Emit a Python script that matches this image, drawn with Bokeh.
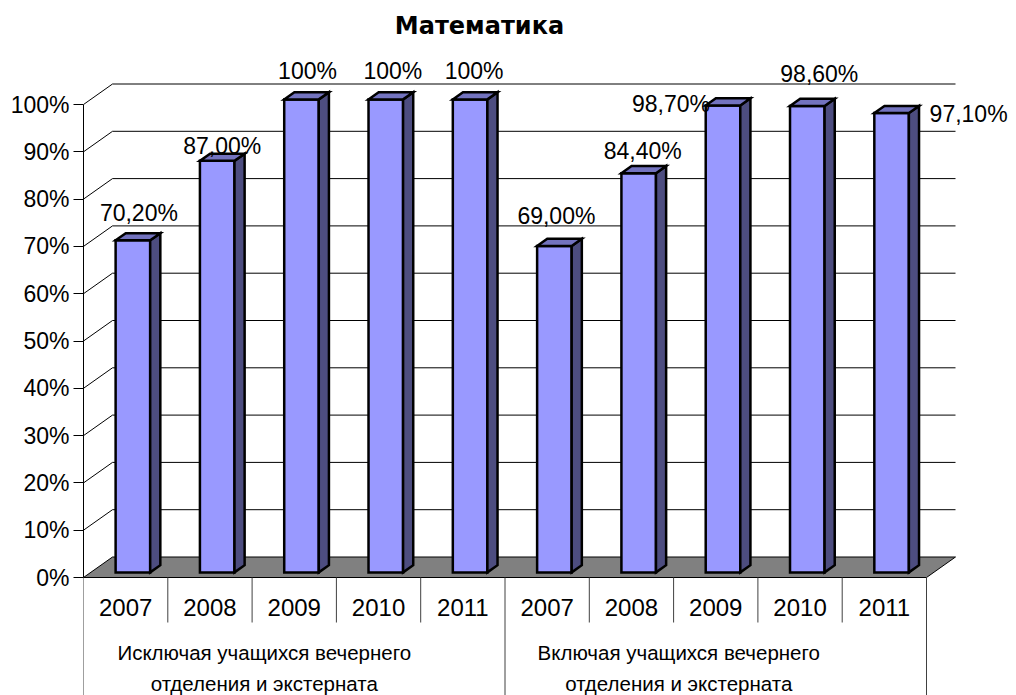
from bokeh.plotting import figure
from bokeh.models import Range1d, LinearAxis, FixedTicker, NumeralTickFormatter
from bokeh.embed import file_html
from bokeh.resources import INLINE
from bokeh.core.properties import value

# ---------------- data ----------------
title_text = "Математика"
years = ["2007", "2008", "2009", "2010", "2011", "2007", "2008", "2009", "2010", "2011"]
group_line1 = ["Исключая учащихся вечернего", "Включая учащихся вечернего"]
group_line2 = ["отделения и экстерната", "отделения и экстерната"]
values = [0.702, 0.870, 1.000, 1.000, 1.000, 0.690, 0.844, 0.987, 0.986, 0.971]
value_labels = ["70,20%", "87,00%", "100%", "100%", "100%",
                "69,00%", "84,40%", "98,70%", "98,60%", "97,10%"]
y_ticks = [0.0, 0.1, 0.2, 0.3, 0.4, 0.5, 0.6, 0.7, 0.8, 0.9, 1.0]

# ---------------- style / geometry ----------------
FONT = "Liberation Sans"
W, H = 1016, 695
LEFT = 83                # frame left (px)
ZERO_Y = 577             # px of 0%
PX_X = 84.3              # px per category
PX_Y = 473.0             # px per 100%
X_END = (W - LEFT) / PX_X
Y_END = ZERO_Y / PX_Y
Y_START = -(H - ZERO_Y) / PX_Y
DX = 29 / PX_X           # floor depth (x)
DY = 20.5 / PX_Y         # floor depth (y)
F0 = 0.25                # bar front depth fraction
FD = 0.35                # bar depth fraction
BW = 0.41                # bar width (category units)
FRONT = "#9999FF"
TOP = "#7373BF"
SIDE = "#4D4D80"
# label offsets in px (dx right, dy down) relative to bar front top centre
label_dx = [6, 5, 6, 7, 4, 2, 4, -52, 12, 77]
label_dy = [-27, -15, -28, -28, -28, -30, -22, -2, -32, 1]
group_dx = [-30, -37]

n = len(values)
n_groups = len(group_line1)
per_group = n // n_groups

p = figure(width=W, height=H, output_backend="svg", toolbar_location=None,
           x_range=Range1d(0, X_END), y_range=Range1d(Y_START, Y_END),
           x_axis_type=None, y_axis_type=None,
           min_border_left=LEFT, min_border_right=0, min_border_top=0, min_border_bottom=0)
p.outline_line_color = None
p.background_fill_color = "white"
p.border_fill_color = "white"
p.xgrid.visible = False
p.ygrid.visible = False

# y axis
yaxis = LinearAxis(ticker=FixedTicker(ticks=y_ticks),
                   formatter=NumeralTickFormatter(format="0%"),
                   bounds=(0, 1))
yaxis.axis_line_color = "black"
yaxis.axis_line_width = 1
yaxis.major_tick_line_color = "black"
yaxis.major_tick_out = 10
yaxis.major_tick_in = 0
yaxis.minor_tick_line_color = None
yaxis.major_label_standoff = 4
yaxis.major_label_text_font = FONT
yaxis.major_label_text_font_size = "23px"
yaxis.major_label_text_color = "black"
p.add_layout(yaxis, "left")

# floor
p.patch([0, n, n + DX, DX], [0, 0, DY, DY], fill_color="#808080",
        line_color="black", line_width=1)

# perspective gridlines
gx = [[0, DX, n + DX] for t in y_ticks[1:]]
gy = [[t, t + DY, t + DY] for t in y_ticks[1:]]
p.multi_line(gx, gy, line_color="black", line_width=1)

# bars
fx, fy, sx, sy, tx, ty = [], [], [], [], [], []
bdx, bdy = FD * DX, FD * DY
for i, v in enumerate(values):
    cx = i + 0.5 + F0 * DX
    x0, x1 = cx - BW / 2, cx + BW / 2
    y0 = F0 * DY
    y1 = y0 + v
    fx.append([x0, x1, x1, x0]); fy.append([y0, y0, y1, y1])
    sx.append([x1, x1 + bdx, x1 + bdx, x1]); sy.append([y0, y0 + bdy, y1 + bdy, y1])
    tx.append([x0, x1, x1 + bdx, x0 + bdx]); ty.append([y1, y1, y1 + bdy, y1 + bdy])
for xs, ys, col in [(fx, fy, FRONT), (sx, sy, SIDE), (tx, ty, TOP)]:
    p.patches(xs, ys, fill_color=col, line_color="black", line_width=2.5,
              line_join="miter")

# data labels
lx = [i + 0.5 + F0 * DX + label_dx[i] / PX_X for i in range(n)]
ly = [F0 * DY + values[i] - label_dy[i] / PX_Y for i in range(n)]
p.text(lx, ly, text=value_labels, text_font=value(FONT), text_font_size="23px",
       text_align="center", text_baseline="alphabetic", text_color="black")

# category table lines
inner = [i for i in range(n + 1) if i % per_group != 0]
outer = [i for i in range(n + 1) if i % per_group == 0]
p.segment(inner, [0] * len(inner), inner, [-45 / PX_Y] * len(inner),
          line_color="#404040", line_width=1)
p.segment(outer, [0] * len(outer), outer, [Y_START] * len(outer),
          line_color="#404040", line_width=1)

# year labels
p.text([i + 0.5 for i in range(n)], [-30 / PX_Y] * n, text=years,
       text_font=value(FONT), text_font_size="24px", text_align="center",
       text_baseline="alphabetic", text_color="black")

# group labels
gcx = [g * per_group + per_group / 2 + group_dx[g] / PX_X for g in range(n_groups)]
p.text(gcx, [-75 / PX_Y] * n_groups, text=group_line1, text_font=value(FONT),
       text_font_size="20.5px", text_align="center", text_baseline="alphabetic",
       text_color="black")
p.text(gcx, [-106 / PX_Y] * n_groups, text=group_line2, text_font=value(FONT),
       text_font_size="20.5px", text_align="center", text_baseline="alphabetic",
       text_color="black")

# title
p.text([(479 - LEFT) / PX_X], [(ZERO_Y - 25) / PX_Y], text=[title_text],
       text_font=value("DejaVu Sans"), text_font_size="24px", text_font_style="bold",
       text_align="center", text_baseline="alphabetic", text_color="black")

open("out.html", "w").write(file_html(p, INLINE))
